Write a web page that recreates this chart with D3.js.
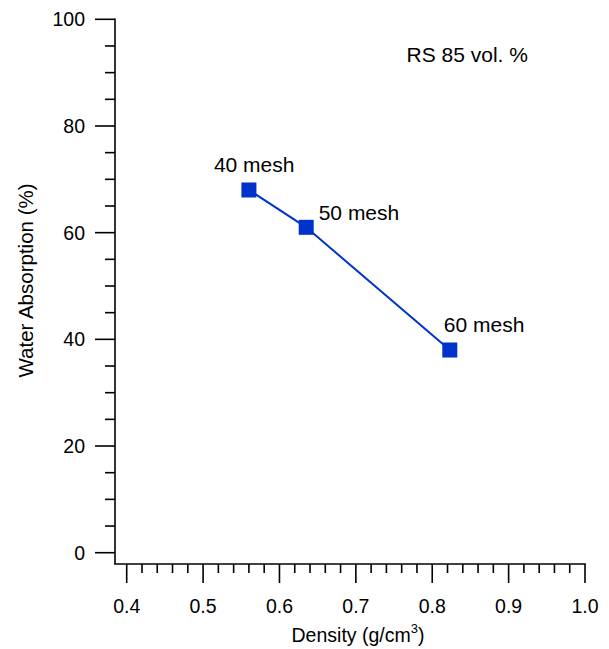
<!DOCTYPE html>
<html>
<head>
<meta charset="utf-8">
<script src="https://cdn.jsdelivr.net/npm/d3@7"></script>
<style>
  body { margin: 0; background: #fff; }
  svg text { font-family: Arial, "Liberation Sans", sans-serif; fill: #000; }
</style>
</head>
<body>
<svg id="chart" width="609" height="649"></svg>
<script>
// Water absorption vs. density for RS 85 vol.% composites
const meshLabels = ["40 mesh", "50 mesh", "60 mesh"];
const density = [0.56, 0.635, 0.823];
const absorption = [68, 61, 38];
const labelDx = [-35, 12.5, -6];
const labelDy = [-18, -7.5, -18];

const xTicks = [0.4, 0.5, 0.6, 0.7, 0.8, 0.9, 1.0];
const yTicks = [0, 20, 40, 60, 80, 100];

const svg = d3.select("#chart");
const axisLeft = 115, axisBottom = 564;

const x = d3.scaleLinear().domain([0.4, 1.0]).range([126.7, 585]);
const y = d3.scaleLinear().domain([0, 100]).range([552.7, 19.3]);

const ink = "#000";
const blue = "#0033cc";
const tickFont = 19.5;

// Y axis (left), ticks pointing outward
const gy = svg.append("g").attr("transform", `translate(${axisLeft},0)`);
gy.append("line").attr("x1", 0).attr("x2", 0).attr("y1", y(100) - 0.8).attr("y2", axisBottom)
  .attr("stroke", ink).attr("stroke-width", 1.6);
const yMinor = d3.range(0, 101, 5).filter(v => v % 20 !== 0);
gy.selectAll(".ymaj").data(yTicks).join("line")
  .attr("x1", -20).attr("x2", 0).attr("y1", d => y(d)).attr("y2", d => y(d))
  .attr("stroke", ink).attr("stroke-width", 1.6);
gy.selectAll(".ymin").data(yMinor).join("line")
  .attr("x1", -10).attr("x2", 0).attr("y1", d => y(d)).attr("y2", d => y(d))
  .attr("stroke", ink).attr("stroke-width", 1.6);
gy.selectAll(".ylab").data(yTicks).join("text")
  .attr("x", -30).attr("y", d => y(d) + 7)
  .attr("text-anchor", "end").attr("font-size", tickFont)
  .text(d => d);

// X axis (bottom), ticks pointing downward
const gx = svg.append("g").attr("transform", `translate(0,${axisBottom})`);
gx.append("line").attr("x1", axisLeft - 0.8).attr("x2", x(1.0) + 0.8).attr("y1", 0).attr("y2", 0)
  .attr("stroke", ink).attr("stroke-width", 1.6);
const xMinor = d3.range(0, 31).map(i => 0.4 + i * 0.02).filter((v, i) => i % 5 !== 0);
gx.selectAll(".xmaj").data(xTicks).join("line")
  .attr("x1", d => x(d)).attr("x2", d => x(d)).attr("y1", 0).attr("y2", 19)
  .attr("stroke", ink).attr("stroke-width", 1.6);
gx.selectAll(".xmin").data(xMinor).join("line")
  .attr("x1", d => x(d)).attr("x2", d => x(d)).attr("y1", 0).attr("y2", 9)
  .attr("stroke", ink).attr("stroke-width", 1.6);
gx.selectAll(".xlab").data(xTicks).join("text")
  .attr("x", d => x(d)).attr("y", 49)
  .attr("text-anchor", "middle").attr("font-size", tickFont)
  .text(d => d.toFixed(1));

// Axis titles
const xt = svg.append("text").attr("x", 358).attr("y", 641.5)
  .attr("text-anchor", "middle").attr("font-size", 19.5);
xt.append("tspan").text("Density (g/cm");
xt.append("tspan").attr("dy", -9).attr("font-size", 13).text("3");
xt.append("tspan").attr("dy", 9).text(")");

svg.append("text")
  .attr("transform", `translate(33,280.5) rotate(-90)`)
  .attr("text-anchor", "middle").attr("font-size", 20.5)
  .text("Water Absorption (%)");

// Series annotation
svg.append("text").attr("x", 406.5).attr("y", 62).attr("font-size", 21)
  .text("RS 85 vol. %");

// Line and markers
const pts = density.map((d, i) => ({ x: d, y: absorption[i], label: meshLabels[i], dx: labelDx[i], dy: labelDy[i] }));
svg.append("path").datum(pts)
  .attr("d", d3.line().x(d => x(d.x)).y(d => y(d.y)))
  .attr("fill", "none").attr("stroke", blue).attr("stroke-width", 2);
const s = 15;
svg.selectAll(".pt").data(pts).join("rect")
  .attr("x", d => x(d.x) - s / 2).attr("y", d => y(d.y) - s / 2)
  .attr("width", s).attr("height", s).attr("fill", blue);
svg.selectAll(".plab").data(pts).join("text")
  .attr("x", d => x(d.x) + d.dx).attr("y", d => y(d.y) + d.dy)
  .attr("font-size", 21)
  .text(d => d.label);
</script>
</body>
</html>
